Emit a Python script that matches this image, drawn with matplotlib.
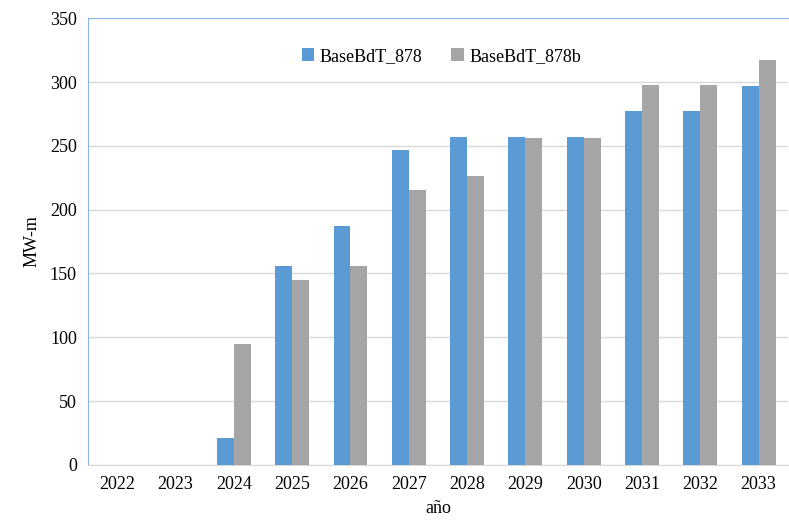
import numpy as np
import matplotlib.pyplot as plt

plt.rcParams['font.family'] = ['Liberation Serif', 'DejaVu Serif']

anios = ['2022', '2023', '2024', '2025', '2026', '2027', '2028', '2029', '2030', '2031', '2032', '2033']
base_878 = [0, 0, 21, 156, 187, 247, 257, 257, 257, 277, 277, 297]
base_878b = [0, 0, 95, 145, 156, 215, 226, 256, 256, 298, 298, 317]

x = np.arange(len(anios))
w = 0.29

fig = plt.figure(figsize=(7.89, 5.2), dpi=100)
ax = fig.add_axes([0.1115, 0.106, 0.887, 0.859])

ax.bar(x - w/2, base_878, w, color='#5B9BD5', label='BaseBdT_878', zorder=3)
ax.bar(x + w/2, base_878b, w, color='#A5A5A5', label='BaseBdT_878b', zorder=3)

ax.set_xlim(-0.5, len(anios) - 0.5)
ax.set_ylim(0, 350)
ax.set_yticks(range(0, 351, 50))
ax.set_xticks(x)
ax.set_xticklabels(anios)
ax.tick_params(axis='both', length=0, labelsize=13, pad=8)
ax.yaxis.grid(True, color='#D9D9D9', linewidth=1, zorder=0)

for s in ['top', 'left']:
    ax.spines[s].set_color('#8EB4E3')
ax.spines['right'].set_visible(False)
ax.spines['bottom'].set_color('#D9D9D9')

ax.set_xlabel('año', fontsize=13, labelpad=5)
ax.set_ylabel('MW-m', fontsize=13, labelpad=7)

ax.legend(loc='upper center', bbox_to_anchor=(0.505, 0.97), ncol=2, frameon=False,
          fontsize=13, handlelength=0.7, handleheight=0.7, handletextpad=0.3,
          columnspacing=1.6)

plt.savefig('out.png', dpi=100)
